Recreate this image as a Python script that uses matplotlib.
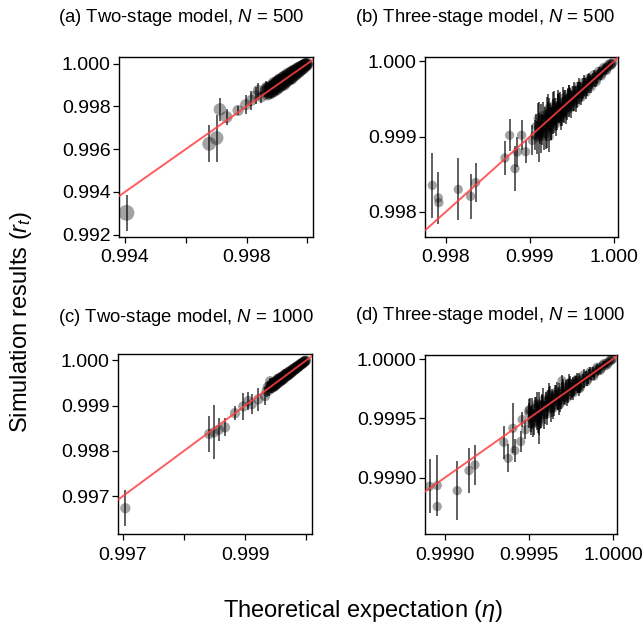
import matplotlib
matplotlib.use("Agg")
import matplotlib.pyplot as plt

plt.rcParams.update({
    "font.family": "Liberation Sans",
    "mathtext.fontset": "custom",
    "mathtext.rm": "Liberation Sans",
    "mathtext.it": "Liberation Sans:italic",
    "figure.facecolor": "white",
})

# ---- (a) Two-stage model, N = 500 ----
eta_a = [0.99405, 0.99677, 0.99701, 0.99712, 0.99734, 0.99772, 0.99797, 0.99816, 0.99830, 0.99838, 0.99849, 0.99865,
         0.99862, 0.99868, 0.99872, 0.99876, 0.99880, 0.99884, 0.99887, 0.99890, 0.99893, 0.99896, 0.99899, 0.99902,
         0.99905, 0.99908, 0.99911, 0.99914, 0.99917, 0.99920, 0.99923, 0.99926, 0.99929, 0.99932, 0.99935, 0.99938,
         0.99941, 0.99944, 0.99947, 0.99950, 0.99953, 0.99956, 0.99959, 0.99962, 0.99965, 0.99968, 0.99971, 0.99974,
         0.99977, 0.99980, 0.99983, 0.99986, 0.99989, 0.99992, 0.99995, 0.99997, 0.99999,
         0.99870, 0.99878, 0.99882, 0.99888, 0.99895, 0.99900, 0.99906, 0.99912, 0.99918, 0.99924, 0.99930, 0.99936,
         0.99942, 0.99948, 0.99954, 0.99960, 0.99966, 0.99972, 0.99978, 0.99984, 0.99990, 0.99994,
         0.99864, 0.99874, 0.99885, 0.99891, 0.99897, 0.99903, 0.99909, 0.99915, 0.99921, 0.99927, 0.99933, 0.99939,
         0.99945, 0.99951, 0.99957, 0.99963, 0.99969, 0.99975, 0.99981, 0.99987, 0.99993, 0.99998, 0.99903, 0.99921,
         0.99945]
r_a = [0.99302, 0.99625, 0.99652, 0.99786, 0.99750, 0.99781, 0.99808, 0.99828, 0.99850, 0.99875, 0.99844, 0.99891,
       0.99870, 0.99856, 0.99887, 0.99871, 0.99862, 0.99894, 0.99873, 0.99910, 0.99885, 0.99901, 0.99879, 0.99914,
       0.99902, 0.99926, 0.99896, 0.99920, 0.99907, 0.99934, 0.99901, 0.99928, 0.99938, 0.99916, 0.99952, 0.99932,
       0.99929, 0.99955, 0.99928, 0.99954, 0.99966, 0.99947, 0.99945, 0.99969, 0.99961, 0.99978, 0.99960, 0.99977,
       0.99969, 0.99986, 0.99976, 0.99990, 0.99984, 0.99995, 0.99991, 0.99999, 0.99998,
       0.99880, 0.99890, 0.99868, 0.99898, 0.99888, 0.99912, 0.99890, 0.99925, 0.99912, 0.99940, 0.99920, 0.99945,
       0.99938, 0.99960, 0.99950, 0.99968, 0.99958, 0.99980, 0.99975, 0.99988, 0.99990, 0.99996,
       0.99880, 0.99860, 0.99900, 0.99872, 0.99912, 0.99885, 0.99924, 0.99898, 0.99936, 0.99910, 0.99946, 0.99925,
       0.99958, 0.99936, 0.99968, 0.99950, 0.99978, 0.99965, 0.99988, 0.99978, 0.99997, 0.99993, 0.99918, 0.99905,
       0.99932]
se_a = [0.00085, 0.00086, 0.00110, 0.00055, 0.00037, 0.00020, 0.00045, 0.00045, 0.00040, 0.00035, 0.00030, 0.00030,
        0.00025, 0.00020, 0.00024, 0.00018, 0.00022, 0.00020, 0.00025, 0.00018, 0.00022, 0.00020, 0.00024, 0.00018,
        0.00021, 0.00019, 0.00022, 0.00017, 0.00020,
        0.00015, 0.00016, 0.00013, 0.00015, 0.00014, 0.00016, 0.00013, 0.00015, 0.00012, 0.00014, 0.00013, 0.00012,
        0.00014, 0.00011,
        0.00010, 0.00009, 0.00010, 0.00008, 0.00009, 0.00007, 0.00008, 0.00006, 0.00007, 0.00005, 0.00005, 0.00004,
        0.00003, 0.00002,
        0.00022, 0.00020, 0.00024, 0.00019, 0.00021, 0.00018, 0.00022, 0.00017, 0.00019,
        0.00015, 0.00014, 0.00013, 0.00014, 0.00012, 0.00011,
        0.00010, 0.00009, 0.00008, 0.00007, 0.00006, 0.00005, 0.00003,
        0.00022, 0.00020, 0.00023, 0.00019, 0.00021, 0.00018, 0.00020, 0.00017, 0.00016, 0.00015, 0.00014, 0.00013,
        0.00013, 0.00012, 0.00011, 0.00010, 0.00009, 0.00008, 0.00007, 0.00006, 0.00004, 0.00002, 0.00020, 0.00016,
        0.00013]
big_a = [130, 100, 100, 80, 75, 65, 65, 65, 60, 60, 60, 55]   # marker area of the low outliers

# ---- (b) Three-stage model, N = 500 ----
eta_b = [0.997842, 0.997913, 0.997920, 0.998150, 0.998297, 0.998356, 0.998705, 0.998760, 0.998824, 0.998851,
         0.998903, 0.998950, 0.999030, 0.999110, 0.999230,
         0.999060, 0.999075, 0.999090, 0.999105, 0.999120, 0.999135, 0.999150, 0.999165, 0.999180, 0.999195,
         0.999210, 0.999225, 0.999240, 0.999255, 0.999270, 0.999285, 0.999300, 0.999315, 0.999330, 0.999345,
         0.999360, 0.999375, 0.999390, 0.999405, 0.999420, 0.999435, 0.999450, 0.999465, 0.999480, 0.999495,
         0.999510, 0.999525, 0.999540, 0.999555, 0.999570, 0.999585, 0.999600, 0.999615, 0.999630, 0.999645,
         0.999660, 0.999675, 0.999690, 0.999705, 0.999720, 0.999735, 0.999750, 0.999765, 0.999780, 0.999795,
         0.999810, 0.999825, 0.999840, 0.999855, 0.999870, 0.999885, 0.999900, 0.999915, 0.999930, 0.999945,
         0.999960, 0.999975, 0.999990,
         0.999200, 0.999230, 0.999260, 0.999290, 0.999320, 0.999350, 0.999380, 0.999410, 0.999440, 0.999470,
         0.999100, 0.999130, 0.999160, 0.999190, 0.999220, 0.999250, 0.999280, 0.999310, 0.999340, 0.999370,
         0.999400, 0.999430, 0.999460, 0.999490, 0.999520, 0.999550, 0.999580, 0.999610, 0.999640, 0.999670,
         0.999700, 0.999730, 0.999760, 0.999790, 0.999820, 0.999850, 0.999880, 0.999910, 0.999940, 0.999970,
         0.999150, 0.999215, 0.999275, 0.999335, 0.999395, 0.999455, 0.999515, 0.999575, 0.999635, 0.999695]
r_b = [0.998354, 0.998186, 0.998124, 0.998300, 0.998208, 0.998390, 0.998717, 0.999018, 0.998575, 0.998796,
       0.999018, 0.998800, 0.998950, 0.999060, 0.999000,
       0.999020, 0.999135, 0.998990, 0.999135, 0.999050, 0.999225, 0.999130, 0.999055, 0.999230, 0.999135,
       0.999310, 0.999195, 0.999260, 0.999165, 0.999340, 0.999235, 0.999340, 0.999215, 0.999410, 0.999325,
       0.999410, 0.999295, 0.999400, 0.999345, 0.999480, 0.999395, 0.999480, 0.999395, 0.999530, 0.999475,
       0.999550, 0.999475, 0.999560, 0.999495, 0.999620, 0.999555, 0.999630, 0.999565, 0.999670, 0.999625,
       0.999680, 0.999635, 0.999720, 0.999675, 0.999745, 0.999715, 0.999770, 0.999735, 0.999795, 0.999770,
       0.999830, 0.999810, 0.999850, 0.999835, 0.999885, 0.999875, 0.999910, 0.999900, 0.999938, 0.999935,
       0.999965, 0.999967, 0.999993,
       0.999100, 0.999310, 0.999220, 0.999380, 0.999250, 0.999380, 0.999290, 0.999450, 0.999360, 0.999530,
       0.999240, 0.999000, 0.999280, 0.999040, 0.999370, 0.999130, 0.999410, 0.999170, 0.999460, 0.999240,
       0.999510, 0.999310, 0.999560, 0.999380, 0.999610, 0.999450, 0.999670, 0.999520, 0.999720, 0.999590,
       0.999770, 0.999660, 0.999820, 0.999730, 0.999870, 0.999805, 0.999920, 0.999875, 0.999965, 0.999950,
       0.999090, 0.999275, 0.999205, 0.999405, 0.999345, 0.999505, 0.999455, 0.999615, 0.999595, 0.999735]
se_b = [0.00043, 0.00035, 0.00000, 0.00041, 0.00030, 0.00026, 0.00023, 0.00021, 0.00030, 0.00020,
        0.00020, 0.00015, 0.00020, 0.00040, 0.00020,
        0.00020, 0.00016, 0.00022, 0.00018, 0.00015, 0.00021, 0.00017, 0.00023, 0.00016, 0.00019,
        0.00022, 0.00015, 0.00018, 0.00021, 0.00016, 0.00019,
        0.00017, 0.00014, 0.00016, 0.00013, 0.00018, 0.00015, 0.00013, 0.00016, 0.00014, 0.00012,
        0.00015, 0.00013, 0.00011, 0.00014, 0.00012, 0.00013, 0.00011, 0.00012, 0.00010, 0.00012,
        0.00010, 0.00009, 0.00011, 0.00008, 0.00010, 0.00009, 0.00008, 0.00009, 0.00007, 0.00008,
        0.00007, 0.00008, 0.00006, 0.00007,
        0.00006, 0.00005, 0.00006, 0.00005, 0.00005, 0.00004, 0.00004, 0.00004, 0.00003, 0.00003,
        0.00003, 0.00002, 0.00002,
        0.00025, 0.00020, 0.00018, 0.00022, 0.00016, 0.00020, 0.00015, 0.00017, 0.00014, 0.00015,
        0.00020, 0.00022, 0.00018, 0.00021, 0.00019, 0.00017, 0.00018, 0.00016, 0.00016, 0.00015,
        0.00015, 0.00014, 0.00013, 0.00013, 0.00012, 0.00012, 0.00011, 0.00010, 0.00010, 0.00009,
        0.00008, 0.00008, 0.00007, 0.00007, 0.00006, 0.00005, 0.00005, 0.00004, 0.00003, 0.00002,
        0.00020, 0.00018, 0.00017, 0.00016, 0.00015, 0.00014, 0.00012, 0.00011, 0.00010, 0.00009]

# ---- (c) Two-stage model, N = 1000 ----
eta_c = [0.997038, 0.998412, 0.998494, 0.998570, 0.998669, 0.998834, 0.998970, 0.999050, 0.999107, 0.999217,
         0.999326, 0.999410,
         0.999350, 0.999370, 0.999390, 0.999410, 0.999425, 0.999440, 0.999455, 0.999470, 0.999485, 0.999500,
         0.999515, 0.999530, 0.999545, 0.999560, 0.999575, 0.999590, 0.999605, 0.999620, 0.999635, 0.999650,
         0.999665, 0.999680, 0.999695, 0.999710, 0.999725, 0.999740, 0.999755, 0.999770, 0.999785, 0.999800,
         0.999815, 0.999830, 0.999845, 0.999860, 0.999875, 0.999890, 0.999905, 0.999920, 0.999935, 0.999950,
         0.999965, 0.999980, 0.999995,
         0.999430, 0.999460, 0.999490, 0.999520, 0.999550, 0.999580, 0.999610, 0.999640, 0.999670, 0.999700,
         0.999730, 0.999760, 0.999790, 0.999820, 0.999850, 0.999880, 0.999910, 0.999940, 0.999970,
         0.999400, 0.999445, 0.999475, 0.999505, 0.999535, 0.999565, 0.999595, 0.999625, 0.999655, 0.999685,
         0.999715, 0.999745, 0.999775, 0.999805, 0.999835, 0.999865, 0.999895, 0.999925, 0.999955, 0.999985,
         0.999480, 0.999540, 0.999600, 0.999660, 0.999720]
r_c = [0.996730, 0.998372, 0.998409, 0.998467, 0.998518, 0.998832, 0.998980, 0.999100, 0.999030, 0.999140,
       0.999210, 0.999540,
       0.999320, 0.999410, 0.999340, 0.999430, 0.999385, 0.999490, 0.999435, 0.999500, 0.999435, 0.999540,
       0.999485, 0.999550, 0.999505, 0.999595, 0.999550, 0.999620, 0.999565, 0.999640, 0.999605, 0.999680,
       0.999645, 0.999705, 0.999660, 0.999730, 0.999700, 0.999760, 0.999735, 0.999785, 0.999760, 0.999820,
       0.999800, 0.999845, 0.999825, 0.999870, 0.999860, 0.999900, 0.999895, 0.999930, 0.999925, 0.999955,
       0.999957, 0.999984, 0.999993,
       0.999440, 0.999415, 0.999505, 0.999470, 0.999595, 0.999545, 0.999645, 0.999600, 0.999700, 0.999670,
       0.999755, 0.999730, 0.999810, 0.999800, 0.999865, 0.999865, 0.999922, 0.999930, 0.999976,
       0.999445, 0.999395, 0.999525, 0.999460, 0.999580, 0.999520, 0.999635, 0.999585, 0.999690, 0.999650,
       0.999745, 0.999715, 0.999800, 0.999780, 0.999855, 0.999845, 0.999910, 0.999913, 0.999963, 0.999980,
       0.999425, 0.999595, 0.999555, 0.999700, 0.999685]
se_c = [0.00040, 0.00040, 0.00060, 0.00025, 0.00020, 0.00015, 0.00030, 0.00020, 0.00022, 0.00025,
        0.00020, 0.00008,
        0.00012, 0.00010, 0.00013, 0.00009, 0.00011, 0.00012, 0.00010, 0.00011, 0.00009,
        0.00009, 0.00008, 0.00010, 0.00007, 0.00009, 0.00008, 0.00007, 0.00008, 0.00006, 0.00007,
        0.00008, 0.00006, 0.00007, 0.00006,
        0.00006, 0.00005, 0.00006, 0.00005, 0.00005, 0.00004, 0.00005, 0.00004, 0.00004, 0.00003,
        0.00004, 0.00003,
        0.00003, 0.00003, 0.00002, 0.00002, 0.00002, 0.00002, 0.00001, 0.00001,
        0.00012, 0.00010, 0.00009, 0.00010, 0.00008, 0.00008, 0.00007, 0.00007, 0.00006, 0.00006,
        0.00005, 0.00005, 0.00004, 0.00004, 0.00003, 0.00003, 0.00002, 0.00002, 0.00001,
        0.00011, 0.00012, 0.00010, 0.00009, 0.00009, 0.00008, 0.00008, 0.00007, 0.00007, 0.00006,
        0.00006, 0.00005, 0.00005, 0.00004, 0.00004, 0.00003, 0.00003, 0.00002, 0.00002, 0.00001,
        0.00011, 0.00009, 0.00008, 0.00007, 0.00006]

# ---- (d) Three-stage model, N = 1000 ----
eta_d = [0.998909, 0.998954, 0.998954, 0.999073, 0.999143, 0.999178, 0.999350, 0.999376, 0.999404, 0.999416,
         0.999450, 0.999459, 0.999479, 0.999499, 0.999558, 0.999697,
         0.999500, 0.999510, 0.999520, 0.999530, 0.999540, 0.999550, 0.999560, 0.999570, 0.999580, 0.999590,
         0.999600, 0.999610, 0.999620, 0.999630, 0.999640, 0.999650, 0.999660, 0.999670, 0.999680, 0.999690,
         0.999700, 0.999710, 0.999720, 0.999730, 0.999740, 0.999750, 0.999760, 0.999770, 0.999780, 0.999790,
         0.999800, 0.999810, 0.999820, 0.999830, 0.999840, 0.999850, 0.999860, 0.999870, 0.999880, 0.999890,
         0.999900, 0.999910, 0.999920, 0.999930, 0.999940, 0.999950, 0.999960, 0.999970, 0.999980, 0.999990,
         0.999998,
         0.999515, 0.999535, 0.999555, 0.999575, 0.999595, 0.999615, 0.999635, 0.999655, 0.999675, 0.999695,
         0.999715, 0.999735, 0.999755, 0.999775, 0.999795,
         0.999505, 0.999525, 0.999545, 0.999565, 0.999585, 0.999605, 0.999625, 0.999645, 0.999665, 0.999685,
         0.999705, 0.999725, 0.999745, 0.999765, 0.999785, 0.999805, 0.999825, 0.999845, 0.999865, 0.999885,
         0.999905, 0.999925, 0.999945, 0.999965, 0.999985, 0.999560, 0.999620, 0.999680, 0.999740, 0.999800]
r_d = [0.998927, 0.998933, 0.998756, 0.998890, 0.999059, 0.999107, 0.999298, 0.999163, 0.999416, 0.999228,
       0.999303, 0.999489, 0.999404, 0.999565, 0.999452, 0.999817,
       0.999540, 0.999460, 0.999540, 0.999470, 0.999590, 0.999520, 0.999620, 0.999530, 0.999610, 0.999530,
       0.999640, 0.999590, 0.999670, 0.999580, 0.999670, 0.999610, 0.999700, 0.999640, 0.999710, 0.999650,
       0.999730, 0.999680, 0.999745, 0.999695, 0.999770, 0.999725, 0.999785, 0.999740, 0.999800, 0.999765,
       0.999820, 0.999790, 0.999835, 0.999805, 0.999855, 0.999830, 0.999875, 0.999855, 0.999890, 0.999875,
       0.999910, 0.999898, 0.999930, 0.999920, 0.999948, 0.999942, 0.999966, 0.999964, 0.999984, 0.999987,
       0.999999,
       0.999495, 0.999580, 0.999500, 0.999615, 0.999550, 0.999650, 0.999590, 0.999700, 0.999640, 0.999735,
       0.999675, 0.999770, 0.999720, 0.999805, 0.999765,
       0.999575, 0.999455, 0.999620, 0.999500, 0.999655, 0.999535, 0.999690, 0.999585, 0.999725, 0.999625,
       0.999760, 0.999670, 0.999795, 0.999715, 0.999830, 0.999760, 0.999865, 0.999810, 0.999895, 0.999855,
       0.999930, 0.999905, 0.999960, 0.999950, 0.999993, 0.999480, 0.999700, 0.999610, 0.999800, 0.999750]
se_d = [0.00023, 0.00026, 0.00000, 0.00025, 0.00019, 0.00017, 0.00014, 0.00012, 0.00021, 0.00010,
        0.00009, 0.00006, 0.00008, 0.00006, 0.00017, 0.00005,
        0.00012, 0.00010, 0.00013, 0.00011, 0.00009, 0.00012, 0.00010, 0.00011, 0.00009, 0.00012,
        0.00008, 0.00010, 0.00009, 0.00011, 0.00008, 0.00009,
        0.00008, 0.00007, 0.00009, 0.00007, 0.00008, 0.00006, 0.00008, 0.00007, 0.00006, 0.00007,
        0.00006, 0.00005, 0.00006, 0.00005, 0.00006,
        0.00005, 0.00004, 0.00005, 0.00004, 0.00004, 0.00004, 0.00003, 0.00004, 0.00003, 0.00003,
        0.00003, 0.00002, 0.00002, 0.00002, 0.00002, 0.00002, 0.00001, 0.00001, 0.00001, 0.00001,
        0.00011, 0.00010, 0.00012, 0.00009, 0.00010, 0.00009, 0.00008, 0.00008, 0.00007, 0.00007,
        0.00006, 0.00006, 0.00005, 0.00005, 0.00005,
        0.00010, 0.00011, 0.00010, 0.00009, 0.00010, 0.00009, 0.00008, 0.00009, 0.00008, 0.00007,
        0.00007, 0.00007, 0.00006, 0.00006, 0.00005, 0.00005, 0.00005, 0.00004, 0.00004, 0.00003,
        0.00003, 0.00003, 0.00002, 0.00002, 0.00001, 0.00012, 0.00010, 0.00008, 0.00007, 0.00006]

W, H = 644, 627
fig = plt.figure(figsize=(W / 100, H / 100), dpi=100)


def px_rect(left, top, right, bottom):
    return [left / W, 1 - bottom / H, (right - left) / W, (bottom - top) / H]


def draw_panel(rect, eta, r, se, sizes, xlim, ylim, xticks, xlabels, yticks, ylabels):
    ax = fig.add_axes(rect)
    ax.scatter(eta, r, s=sizes, c="black", alpha=0.36, edgecolors="none", zorder=2)
    ax.errorbar(eta, r, yerr=se, fmt="none", ecolor="black", alpha=0.7,
                elinewidth=1.25, capsize=0, zorder=3)
    ax.axline((1.0, 1.0), slope=1, color="#ff4040", alpha=0.85, lw=1.4, zorder=4)
    ax.set_xlim(*xlim)
    ax.set_ylim(*ylim)
    ax.set_xticks(xticks)
    ax.set_xticklabels(xlabels)
    ax.set_yticks(yticks)
    ax.set_yticklabels(ylabels)
    ax.tick_params(axis="both", direction="out", length=4, width=0.9, labelsize=14, colors="black")
    ax.tick_params(axis="x", pad=5)
    ax.tick_params(axis="y", pad=2)
    for sp in ax.spines.values():
        sp.set_linewidth(1.0)
        sp.set_color("black")
    return ax


sizes_a = big_a + [75] * (len(eta_a) - len(big_a))

draw_panel(px_rect(119, 57, 313, 237), eta_a, r_a, se_a, sizes_a,
           (0.993803, 1.000184), (0.99189, 1.00031),
           [0.994, 0.996, 0.998, 1.000], ["0.994", "", "0.998", ""],
           [0.992, 0.994, 0.996, 0.998, 1.000], ["0.992", "0.994", "0.996", "0.998", "1.000"])

draw_panel(px_rect(425, 57, 618, 237), eta_b, r_b, se_b, 45,
           (0.997755, 1.000048), (0.997668, 1.000057),
           [0.998, 0.999, 1.000], ["0.998", "0.999", "1.000"],
           [0.998, 0.999, 1.000], ["0.998", "0.999", "1.000"])

draw_panel(px_rect(118, 354, 312, 534), eta_c, r_c, se_c, 55,
           (0.996918, 1.000094), (0.99616, 1.00014),
           [0.997, 0.998, 0.999, 1.000], ["0.997", "", "0.999", ""],
           [0.997, 0.998, 0.999, 1.000], ["0.997", "0.998", "0.999", "1.000"])

draw_panel(px_rect(425, 355, 617, 534), eta_d, r_d, se_d, 45,
           (0.998881, 1.000024), (0.998524, 1.000034),
           [0.9990, 0.9995, 1.0000], ["0.9990", "0.9995", "1.0000"],
           [0.9990, 0.9995, 1.0000], ["0.9990", "0.9995", "1.0000"])

titles = [r"(a) Two-stage model, $N$ = 500", r"(b) Three-stage model, $N$ = 500",
          r"(c) Two-stage model, $N$ = 1000", r"(d) Three-stage model, $N$ = 1000"]
title_pos = [(181, 17), (485, 17), (186, 317), (490, 316)]
for t, (tx, ty) in zip(titles, title_pos):
    fig.text(tx / W, 1 - ty / H, t, ha="center", va="center", fontsize=13.3)

fig.text(363 / W, 1 - 611 / H, r"Theoretical expectation ($\eta$)", ha="center", va="center", fontsize=17)
fig.text(21 / W, 1 - 322 / H, r"Simulation results ($r_t$)", ha="center", va="center",
         rotation=90, fontsize=17)

fig.savefig("out.png", dpi=100)
